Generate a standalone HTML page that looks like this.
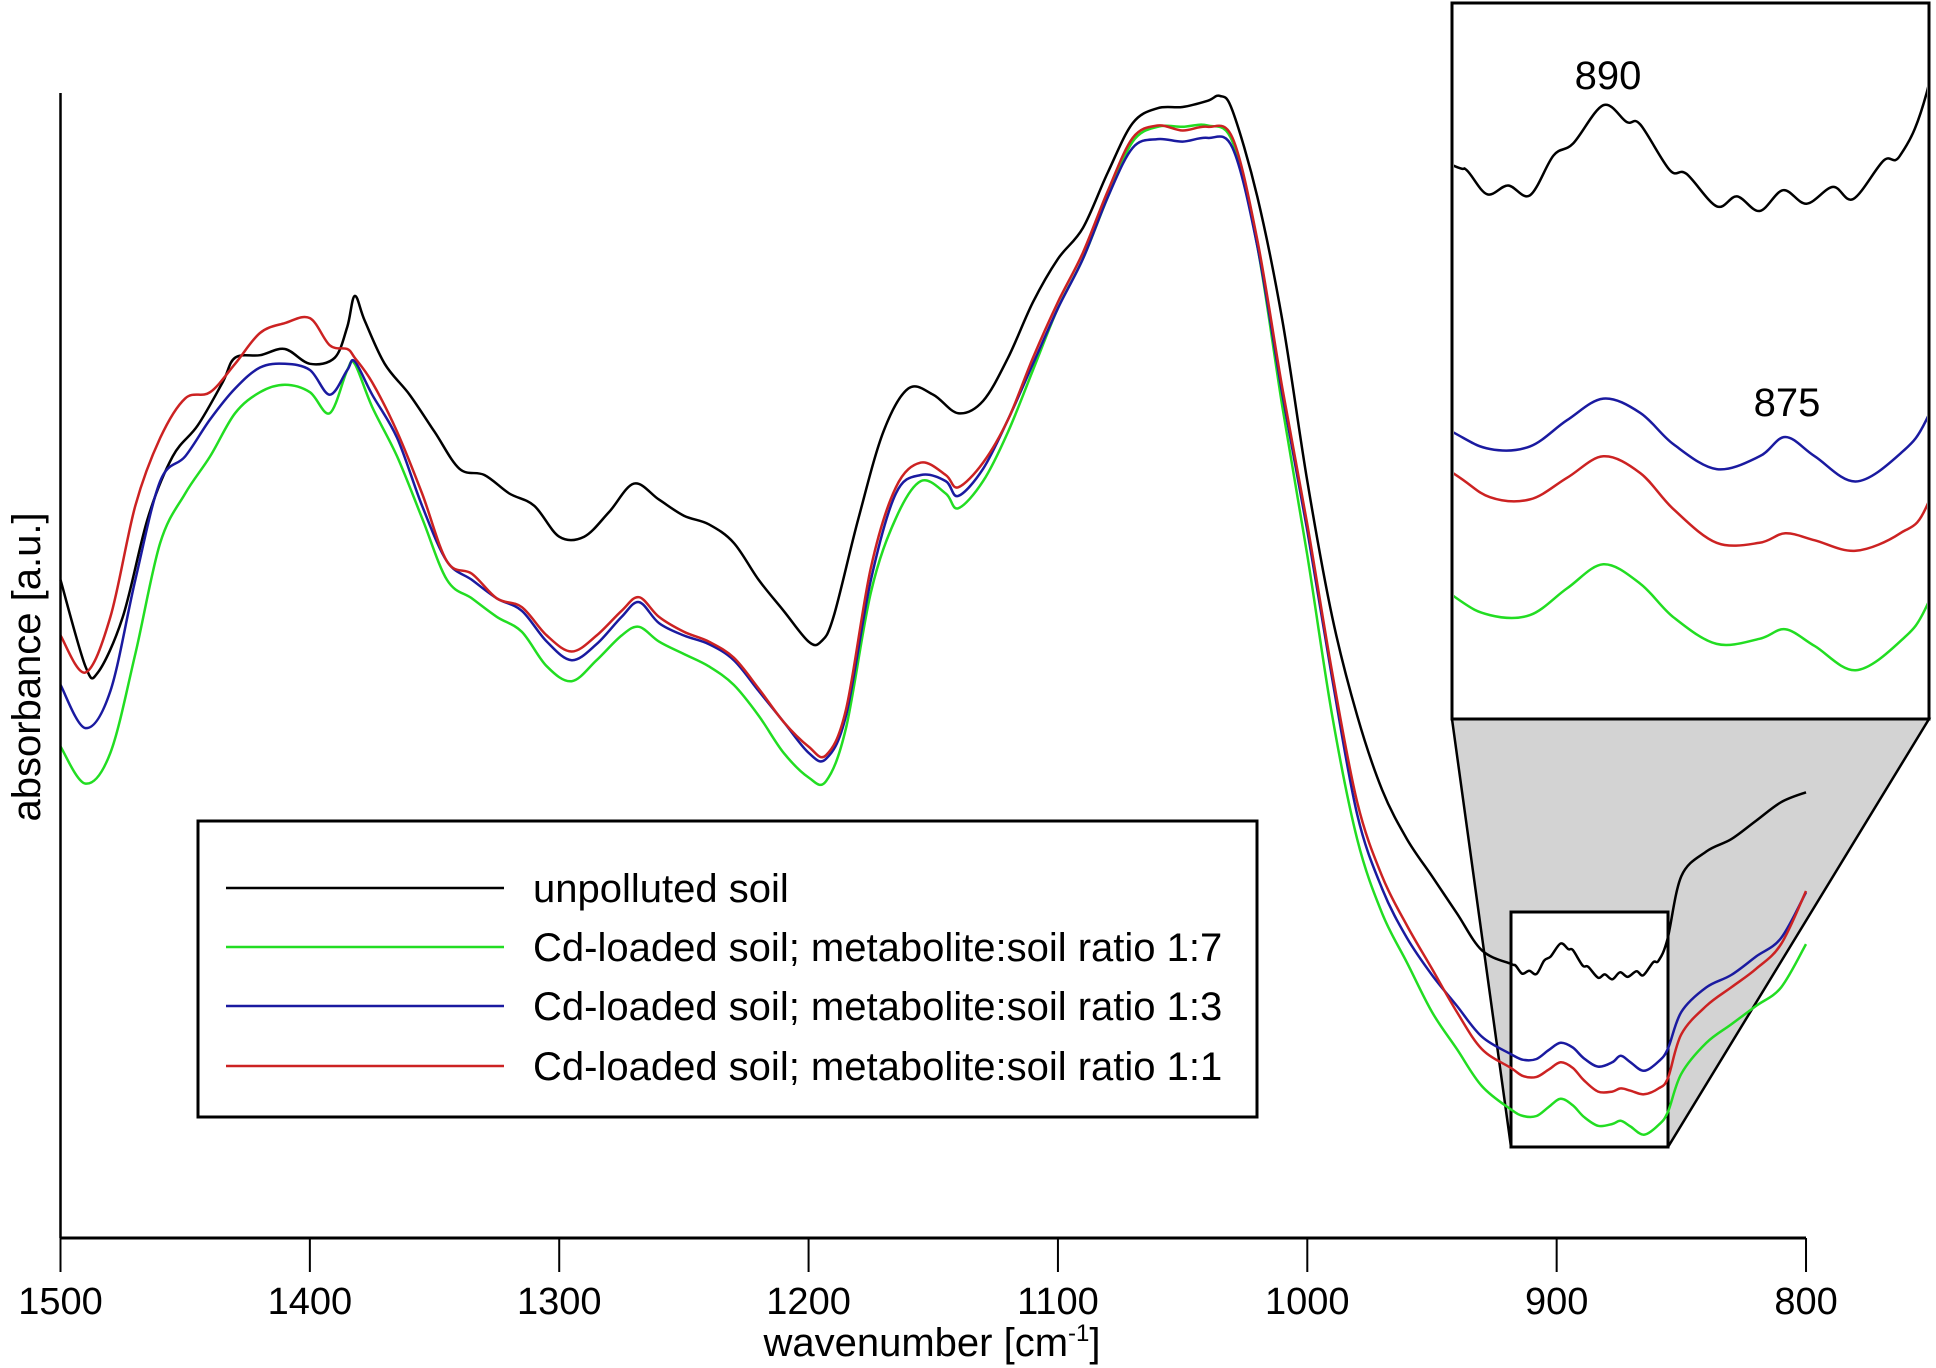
<!DOCTYPE html>
<html><head><meta charset="utf-8"><style>
html,body{margin:0;padding:0;background:#fff;}
svg{display:block;font-family:"Liberation Sans",Arial,sans-serif;}
</style></head><body>
<svg id="chart" width="1936" height="1368" viewBox="0 0 1936 1368">
<defs><clipPath id="insetClip"><rect x="1454" y="4" width="473" height="713"/></clipPath></defs>
<polygon points="1452,719 1929,719 1668,1147 1511,1147" fill="#d3d3d3" stroke="#000" stroke-width="2.5"/>
<rect x="1511" y="912" width="157" height="235" fill="#fff" stroke="#000" stroke-width="3"/>
<g id="main"></g>
<line x1="60.5" y1="93" x2="60.5" y2="1238" stroke="#000" stroke-width="2.5"/>
<line x1="60.5" y1="1238" x2="1806" y2="1238" stroke="#000" stroke-width="3"/>
<g id="xticks"></g>
<text x="932" y="1356" font-size="40" text-anchor="middle">wavenumber [cm<tspan font-size="24" dy="-15">-1</tspan><tspan dy="15">]</tspan></text>
<text transform="translate(40,667) rotate(-90)" font-size="40" text-anchor="middle">absorbance [a.u.]</text>
<rect x="1452" y="3" width="477" height="716" fill="#fff" stroke="#000" stroke-width="3"/>
<g id="inset" clip-path="url(#insetClip)"></g>
<text x="1608" y="89" font-size="40" text-anchor="middle">890</text>
<text x="1787" y="416" font-size="40" text-anchor="middle">875</text>
<g>
<rect x="198" y="821" width="1059" height="296" fill="#fff" stroke="#000" stroke-width="3"/>
<line x1="226" y1="888" x2="504" y2="888" stroke="#000" stroke-width="2.5"/>
<text x="533" y="902" font-size="40">unpolluted soil</text>
<line x1="226" y1="947" x2="504" y2="947" stroke="#22dd22" stroke-width="2.5"/>
<text x="533" y="961" font-size="40">Cd-loaded soil; metabolite:soil ratio 1:7</text>
<line x1="226" y1="1006" x2="504" y2="1006" stroke="#1a1aa0" stroke-width="2.5"/>
<text x="533" y="1020" font-size="40">Cd-loaded soil; metabolite:soil ratio 1:3</text>
<line x1="226" y1="1066" x2="504" y2="1066" stroke="#cc2222" stroke-width="2.5"/>
<text x="533" y="1080" font-size="40">Cd-loaded soil; metabolite:soil ratio 1:1</text>
</g>
</svg>
<script>
const xTicks = [1500,1400,1300,1200,1100,1000,900,800];
const wnBlack = [1500,1490,1485,1475,1465,1455,1445,1435,1430,1420,1410,1400,1390,1385,1382,1378,1370,1360,1350,1340,1330,1320,1310,1300,1290,1280,1270,1260,1250,1240,1230,1220,1210,1200,1195,1190,1180,1170,1160,1150,1140,1130,1120,1110,1100,1090,1080,1070,1060,1050,1040,1035,1030,1020,1010,1000,990,980,970,960,950,940,930,918.3,916.5,913.8,911,908.1,905,902.4,898.4,895.3,893.5,889.6,887.4,883.4,880.7,877.7,874.6,871.5,868,865.3,861.3,859.1,855.6,850,840,830,820,810,800];
const absBlack = [533,463,458,503,583,633,658,693,713,715,720,708,713,738,763,743,708,683,653,623,618,603,593,568,568,588,611,598,585,578,563,533,508,483,483,503,583,653,688,683,668,678,713,758,793,818,863,903,915,916,921,925,913,843,743,613,503,423,363,323,293,263,233,222,220.7,214.1,216.5,213.8,224.7,228,238.5,233.9,233.2,220.7,219.7,210.8,213.5,209.5,215.2,211.5,216.1,212.8,223.3,224.7,241.8,293,313,323,338,353,361];
const wnCd = [1500,1490,1480,1470,1460,1450,1440,1430,1420,1410,1400,1392,1385,1382,1375,1365,1355,1345,1335,1325,1315,1305,1295,1285,1275,1268,1260,1250,1240,1230,1220,1210,1200,1193,1185,1175,1165,1155,1145,1140,1130,1120,1110,1100,1090,1080,1070,1060,1050,1040,1030,1020,1010,1000,990,980,970,960,950,940,930,918.3,913.4,908.1,903.2,898.4,893.5,889.1,883.4,877.7,874.3,870.4,865,859.1,855.4,850,840,830,820,810,800];
const absGreen = [398,368,393,473,563,603,633,668,685,691,685,668,703,708,673,633,583,533,518,503,491,463,451,468,488,495,483,473,463,448,423,393,373,370,413,523,583,613,603,591,613,653,703,753,793,843,888,900,900,901,888,803,673,553,423,323,263,223,183,153,123,104.1,98.8,98.8,106.1,112.7,107.4,98.2,90.9,92.3,94.9,90.3,83.7,91.6,102.1,133,158,173,188,203,238];
const absBlue = [448,413,443,533,613,633,663,688,705,708,703,683,703,710,683,648,593,548,533,518,508,483,468,481,503,515,498,488,481,468,443,418,393,388,423,533,603,618,613,601,623,663,708,753,793,843,883,890,888,891,883,803,683,573,453,343,283,243,213,188,163,148.9,144.3,145,152.2,158.1,154.2,145.6,138.8,142.3,147.6,142.3,135.4,143,153.3,183,203,213,228,243,280];
const absRed = [488,458,503,593,648,680,685,708,733,741,745,723,720,713,693,653,603,548,538,518,511,488,475,488,508,519,503,491,483,470,445,418,398,391,428,543,608,628,618,608,628,663,713,758,798,848,891,901,897,900,891,808,688,578,458,353,293,253,218,183,153,137.7,131.1,130.5,136.4,142.3,137.7,127.8,118.6,118.6,121.2,119.3,116.4,121.2,129.5,165,188,203,218,238,281];

const NS = 'http://www.w3.org/2000/svg';
function xScale(wn){ return 60.5 + (1500 - wn) * 2.4936; }
function yScale(v){ return 1238 - v * 1.2347; }
function xInset(wn){ return 1453 + (918.3 - wn) / 0.1324; }
function yInset(v){ return 399 + (158 - v) * 3.65; }
function pathFor(wns, vals, fx, fy){
  const P = wns.map((w, i) => [fx(w), fy(vals[i])]);
  let d = 'M' + P[0][0].toFixed(1) + ',' + P[0][1].toFixed(1);
  for (let i = 0; i < P.length - 1; i++) {
    const p0 = P[Math.max(0, i - 1)], p1 = P[i], p2 = P[i + 1], p3 = P[Math.min(P.length - 1, i + 2)];
    const c1x = p1[0] + (p2[0] - p0[0]) / 6, c1y = p1[1] + (p2[1] - p0[1]) / 6;
    const c2x = p2[0] - (p3[0] - p1[0]) / 6, c2y = p2[1] - (p3[1] - p1[1]) / 6;
    d += 'C' + c1x.toFixed(1) + ',' + c1y.toFixed(1) + ' ' + c2x.toFixed(1) + ',' + c2y.toFixed(1) + ' ' + p2[0].toFixed(1) + ',' + p2[1].toFixed(1);
  }
  return d;
}
const series = [
  {name:'unpolluted', wn:wnBlack, v:absBlack, c:'#000'},
  {name:'ratio-1-7', wn:wnCd, v:absGreen, c:'#22dd22'},
  {name:'ratio-1-3', wn:wnCd, v:absBlue, c:'#1a1aa0'},
  {name:'ratio-1-1', wn:wnCd, v:absRed, c:'#cc2222'}
];
const mainG = document.getElementById('main');
const insetG = document.getElementById('inset');
series.forEach(s => {
  const p = document.createElementNS(NS, 'path');
  p.setAttribute('d', pathFor(s.wn, s.v, xScale, yScale));
  p.setAttribute('fill', 'none'); p.setAttribute('stroke', s.c); p.setAttribute('stroke-width', '2.5');
  p.setAttribute('stroke-linejoin', 'round');
  
  
  mainG.appendChild(p);
  const q = document.createElementNS(NS, 'path');
  q.setAttribute('d', pathFor(s.wn, s.v, xInset, yInset));
  q.setAttribute('fill', 'none'); q.setAttribute('stroke', s.c); q.setAttribute('stroke-width', '2.5');
  q.setAttribute('stroke-linejoin', 'round');
  
  
  insetG.appendChild(q);
});
const tg = document.getElementById('xticks');
xTicks.forEach(t => {
  const x = xScale(t);
  const l = document.createElementNS(NS, 'line');
  l.setAttribute('x1', x); l.setAttribute('x2', x); l.setAttribute('y1', 1238); l.setAttribute('y2', 1272);
  l.setAttribute('stroke', '#000'); l.setAttribute('stroke-width', '2');
  
  
  tg.appendChild(l);
  const tx = document.createElementNS(NS, 'text');
  tx.setAttribute('x', x); tx.setAttribute('y', 1314); tx.setAttribute('font-size', '38'); tx.setAttribute('text-anchor', 'middle');
  tx.textContent = t;
  
  
  tg.appendChild(tx);
});
</script>
</body></html>
